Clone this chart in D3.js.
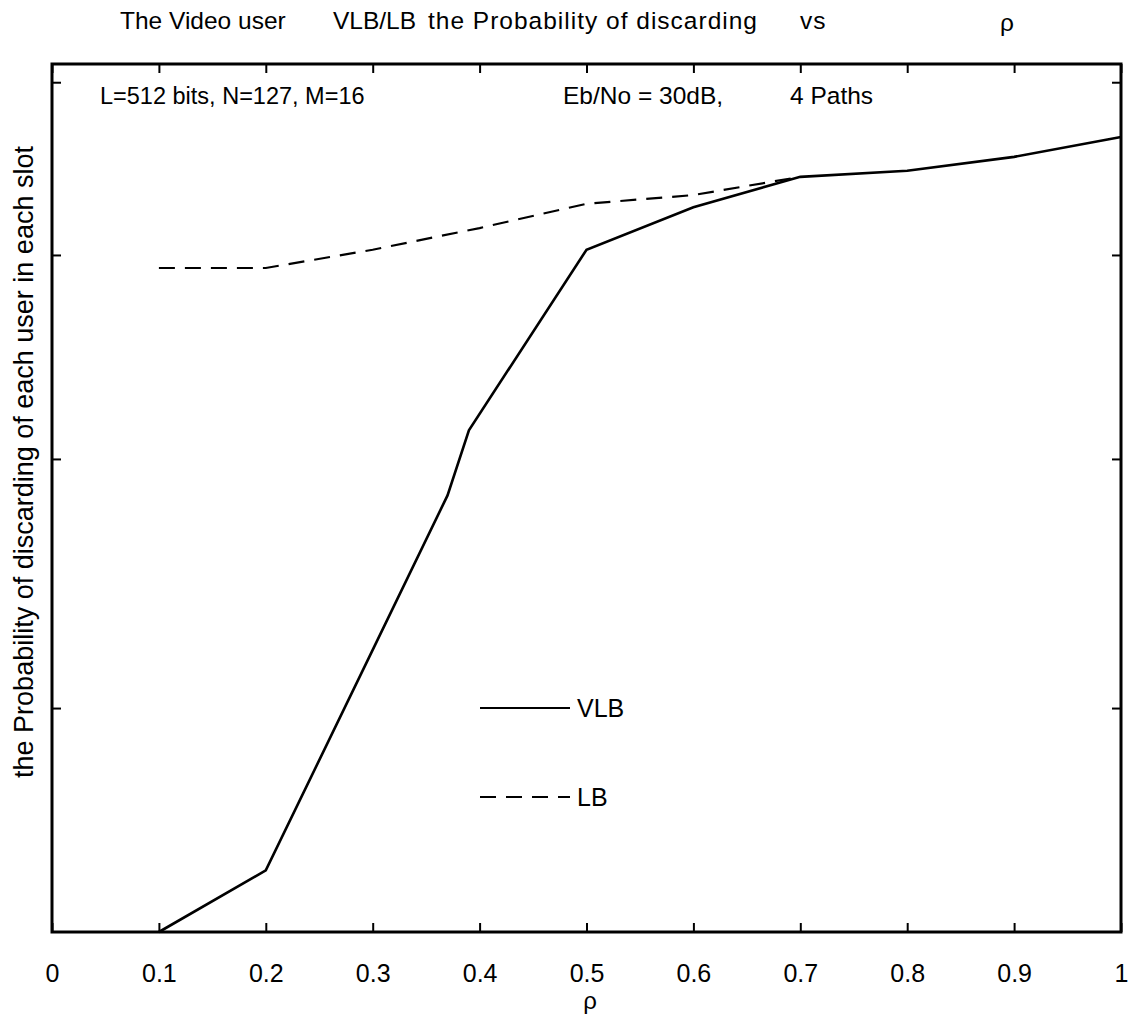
<!DOCTYPE html>
<html>
<head>
<meta charset="utf-8">
<script src="https://cdn.jsdelivr.net/npm/d3@7"></script>
<style>
  html, body { margin: 0; padding: 0; background: #fff; }
  svg { display: block; }
  text { font-family: "Liberation Sans", Arial, Helvetica, sans-serif; fill: #000; white-space: pre; }
</style>
</head>
<body>
<script>
// ---- data (y in relative units of the axis height) ----
const rho = [0.1, 0.2, 0.3, 0.37, 0.39, 0.5, 0.6, 0.7, 0.8, 0.9, 1.0];
const vlb = [0.0, 0.071, 0.325, 0.503, 0.578, 0.786, 0.835, 0.870, 0.877, 0.893, 0.916];
const lbRho = [0.1, 0.2, 0.3, 0.4, 0.5, 0.6, 0.7];
const lb = [0.765, 0.765, 0.786, 0.811, 0.839, 0.849, 0.870];
const xTicks = [0, 0.1, 0.2, 0.3, 0.4, 0.5, 0.6, 0.7, 0.8, 0.9, 1];
const yTicks = [0.258, 0.545, 0.780, 0.979];
const seriesNames = ["VLB", "LB"];

(function () {
const W = 1133, H = 1016;
const pL = 52, pR = 1121, pT = 64, pB = 932;

const svg = d3.select("body").append("svg").attr("width", W).attr("height", H);

const x = d3.scaleLinear().domain([0, 1]).range([pL, pR]);
const y = d3.scaleLinear().domain([0, 1]).range([pB, pT]);

// frame
svg.append("rect").attr("x", pL).attr("y", pT)
  .attr("width", pR - pL).attr("height", pB - pT)
  .attr("fill", "none").attr("stroke", "#000").attr("stroke-width", 3);

// axes with inward ticks
const fmt = d => d === 0 ? "0" : d === 1 ? "1" : d3.format(".1f")(d);
const xb = svg.append("g").attr("transform", `translate(0,${pB})`)
  .call(d3.axisBottom(x).tickValues(xTicks).tickSizeInner(-9).tickSizeOuter(0).tickPadding(32).tickFormat(fmt));
const xt = svg.append("g").attr("transform", `translate(0,${pT})`)
  .call(d3.axisTop(x).tickValues(xTicks).tickSizeInner(-9).tickSizeOuter(0).tickFormat(""));
const yl = svg.append("g").attr("transform", `translate(${pL},0)`)
  .call(d3.axisLeft(y).tickValues(yTicks).tickSizeInner(-9).tickSizeOuter(0).tickFormat(""));
const yr = svg.append("g").attr("transform", `translate(${pR},0)`)
  .call(d3.axisRight(y).tickValues(yTicks).tickSizeInner(-9).tickSizeOuter(0).tickFormat(""));
[xb, xt, yl, yr].forEach(g => {
  g.select(".domain").remove();
  g.selectAll(".tick line").attr("stroke", "#000").attr("stroke-width", 2);
});
xb.selectAll(".tick text").attr("font-size", 25).attr("font-family", "Liberation Sans, Arial, sans-serif").attr("fill", "#000");

// lines
const line = d3.line().x(d => x(d[0])).y(d => y(d[1]));
svg.append("path").datum(rho.map((r, i) => [r, vlb[i]]))
  .attr("d", line).attr("fill", "none").attr("stroke", "#000").attr("stroke-width", 2.6);
svg.append("path").datum(lbRho.map((r, i) => [r, lb[i]]))
  .attr("d", line).attr("fill", "none").attr("stroke", "#000").attr("stroke-width", 2.2)
  .attr("stroke-dasharray", "16,10");

// legend
const lg = svg.append("g");
lg.append("line").attr("x1", 480).attr("x2", 570).attr("y1", 708).attr("y2", 708)
  .attr("stroke", "#000").attr("stroke-width", 2.2);
lg.append("text").attr("x", 577).attr("y", 717).attr("font-size", 25).text(seriesNames[0]);
lg.append("line").attr("x1", 480).attr("x2", 570).attr("y1", 797).attr("y2", 797)
  .attr("stroke", "#000").attr("stroke-width", 2.2).attr("stroke-dasharray", "16,10");
lg.append("text").attr("x", 577).attr("y", 806).attr("font-size", 25).text(seriesNames[1]);

// title pieces
const tf = 24.5;
svg.append("text").attr("x", 120).attr("y", 29).attr("font-size", tf).text("The Video user");
svg.append("text").attr("x", 333).attr("y", 29).attr("font-size", tf).text("VLB/LB");
svg.append("text").attr("x", 428).attr("y", 29).attr("font-size", tf).attr("letter-spacing", 1).text("the Probability of discarding");
svg.append("text").attr("x", 800).attr("y", 29).attr("font-size", tf).attr("letter-spacing", 1).text("vs");
svg.append("text").attr("x", 1000).attr("y", 31).attr("font-size", tf).text("ρ");

// annotations
svg.append("text").attr("x", 100).attr("y", 104).attr("font-size", 23.5).text("L=512 bits, N=127, M=16");
svg.append("text").attr("x", 563).attr("y", 104).attr("font-size", 24.5).text("Eb/No = 30dB,");
svg.append("text").attr("x", 790).attr("y", 104).attr("font-size", 24.5).text("4 Paths");

// axis labels
svg.append("text").attr("x", 590).attr("y", 1009).attr("text-anchor", "middle").attr("font-size", 24).text("ρ");
svg.append("text").attr("transform", "translate(33,462) rotate(-90)")
  .attr("text-anchor", "middle").attr("font-size", 27)
  .text("the Probability of discarding of each user in each slot");
})();
</script>
</body>
</html>
